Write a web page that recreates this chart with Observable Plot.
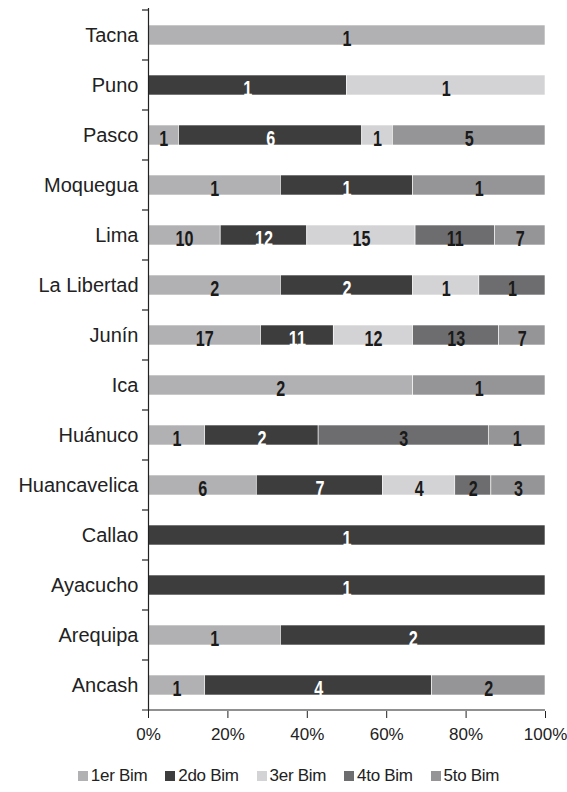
<!DOCTYPE html>
<html>
<head>
<meta charset="utf-8">
<script src="https://cdn.jsdelivr.net/npm/d3@7"></script>
<script src="https://cdn.jsdelivr.net/npm/@observablehq/plot@0.6"></script>
<style>
  body { margin: 0; background: #fff; font-family: "Liberation Sans", Arial, sans-serif; }
  #chart svg { display: block; }
  .legend { display: flex; justify-content: center; align-items: center; margin-top: 14px; padding-left: 10px;
            font-size: 17px; color: #222; line-height: 20px; letter-spacing: -0.3px; }
  .legend .item { display: flex; align-items: center; margin-right: 18px; }
  .legend .item:last-child { margin-right: 0; }
  .legend .sw { width: 10px; height: 10px; margin-right: 3px; }
</style>
</head>
<body>
<div id="chart"></div>
<script>
const regions = ["Tacna","Puno","Pasco","Moquegua","Lima","La Libertad","Junín","Ica","Huánuco","Huancavelica","Callao","Ayacucho","Arequipa","Ancash"];
const series = ["1er Bim","2do Bim","3er Bim","4to Bim","5to Bim"];
const bim1 = [1,0,1,1,10,2,17,2,1,6,0,0,1,1];
const bim2 = [0,1,6,1,12,2,11,0,2,7,1,1,2,4];
const bim3 = [0,1,1,0,15,1,12,0,0,4,0,0,0,0];
const bim4 = [0,0,0,0,11,1,13,0,3,2,0,0,0,0];
const bim5 = [0,0,5,1,7,0,7,1,1,3,0,0,0,2];
const xTicks = [0, 0.2, 0.4, 0.6, 0.8, 1];
const colors = ["#b1b1b3","#3d3d3d","#d3d3d5","#6d6d6f","#959597"];

const seriesValues = [bim1, bim2, bim3, bim4, bim5];
const data = [];
regions.forEach((r, i) => {
  series.forEach((s, j) => {
    const v = seriesValues[j][i];
    if (v > 0) data.push({region: r, series: s, value: v});
  });
});

const stackOpts = {x: "value", y: "region", z: "series", offset: "normalize", order: series};
const numFont = '"Liberation Sans Narrow", "Arial Narrow", "Liberation Sans", sans-serif';

const chart = Plot.plot({
  width: 567,
  height: 752,
  marginLeft: 148,
  marginRight: 22,
  marginTop: 8,
  marginBottom: 41,
  style: {fontFamily: '"Liberation Sans", Arial, sans-serif', color: "#222", background: "#fff"},
  x: {domain: [0, 1], ticks: xTicks, tickFormat: d => Math.round(d * 100) + "%"},
  y: {domain: regions, paddingInner: 0.6, paddingOuter: 0.3},
  color: {domain: series, range: colors},
  marks: [
    Plot.barX(data, Plot.stackX({...stackOpts, fill: "series", stroke: "#fff", strokeWidth: 0.6})),
    Plot.text(data, Plot.stackX({...stackOpts, text: d => d.series === "2do Bim" ? String(d.value) : null,
      fill: "#fff", fontWeight: "bold", fontSize: 19, dy: 3, fontFamily: numFont})),
    Plot.text(data, Plot.stackX({...stackOpts, text: d => d.series !== "2do Bim" ? String(d.value) : null,
      fill: "#1a1a1a", fontWeight: "bold", fontSize: 19, dy: 3, fontFamily: numFont})),
    Plot.ruleX([0], {stroke: "#222", strokeWidth: 1.2}),
    Plot.axisY({tickSize: 0, tickPadding: 10, fontSize: 20, label: null}),
    Plot.axisX({ticks: xTicks, tickSize: 7, tickPadding: 9, fontSize: 17, label: null, tickFormat: d => Math.round(d * 100) + "%", stroke: "#222"})
  ]
});

const svg = d3.select(chart);

// band boundary ticks on the y axis and the x-axis baseline, from the plot's scales
const ys = chart.scale("y");
const xs = chart.scale("x");
const x0 = xs.apply(0), x1 = xs.apply(1);
const g = svg.append("g").attr("stroke", "#222").attr("stroke-width", 1.2);
const step = ys.step, bw = ys.bandwidth;
const bounds = regions.map(r => ys.apply(r) + bw / 2 - step / 2);
bounds.push(ys.apply(regions[regions.length - 1]) + bw / 2 + step / 2);
bounds.forEach((b, i) => {
  if (i < bounds.length - 1) g.append("line").attr("x1", x0 - 6).attr("x2", x0).attr("y1", b).attr("y2", b);
});
const yBottom = bounds[bounds.length - 1];
g.append("line").attr("x1", x0 - 6).attr("x2", x1).attr("y1", yBottom).attr("y2", yBottom);

document.getElementById("chart").appendChild(chart);

// condensed, taller look for the bar numbers: scale each about its own centre
svg.selectAll('g[aria-label="text"] text').each(function () {
  const bb = this.getBBox();
  if (!bb || !bb.width) return;
  const cx = bb.x + bb.width / 2, cy = bb.y + bb.height / 2;
  const t = this.getAttribute("transform") || "";
  this.setAttribute("transform", `${t} translate(${cx},${cy}) scale(0.85,1.15) translate(${-cx},${-cy})`);
});

const legend = d3.select("body").append("div").attr("class", "legend");
series.forEach((s, i) => {
  const it = legend.append("div").attr("class", "item");
  it.append("div").attr("class", "sw").style("background", colors[i]);
  it.append("span").text(s);
});
</script>
</body>
</html>
